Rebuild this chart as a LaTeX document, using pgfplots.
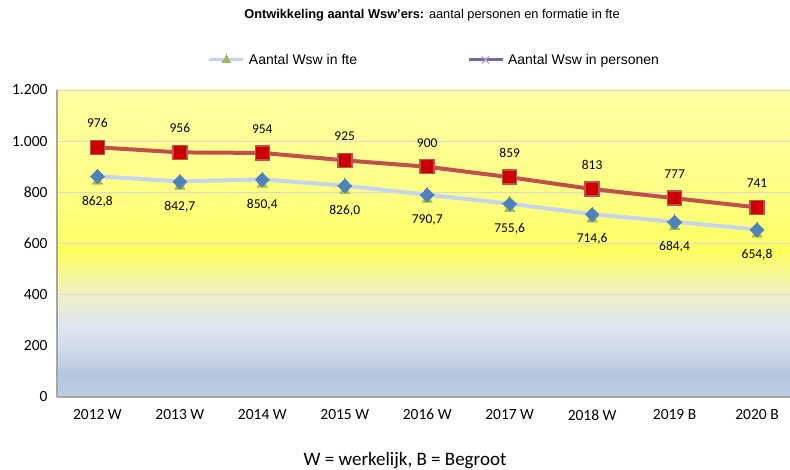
\documentclass[border=0pt]{standalone}
\usepackage{fontspec}
\setmainfont{Liberation Sans}
\newfontfamily\carlito{Carlito}
\usepackage{pgfplots}
\pgfplotsset{compat=1.18}

\definecolor{fteline}{RGB}{196,213,236}
\definecolor{ftemark}{RGB}{79,129,189}
\definecolor{ftetri}{RGB}{155,187,89}
\definecolor{persline}{RGB}{192,80,77}
\definecolor{persmark}{RGB}{204,0,0}
\definecolor{legpurple}{RGB}{128,100,162}
\definecolor{axisgray}{RGB}{166,166,166}
\definecolor{gridgray}{RGB}{217,217,217}

% achtergrond: blauw onder, geel boven
\definecolor{bgA}{RGB}{190,205,226}
\definecolor{bgB}{RGB}{180,199,224}
\definecolor{bgC}{RGB}{212,222,237}
\definecolor{bgD}{RGB}{222,230,238}
\definecolor{bgE}{RGB}{236,238,205}
\definecolor{bgF}{RGB}{255,255,95}
\definecolor{bgG}{RGB}{255,255,130}
\definecolor{bgH}{RGB}{255,255,165}
\pgfdeclareverticalshading{bg}{100bp}{%
  color(0bp)=(bgA); color(25bp)=(bgA); color(28.6bp)=(bgB);
  color(33.5bp)=(bgC); color(36.7bp)=(bgD); color(40.8bp)=(bgE);
  color(48.9bp)=(bgF); color(57.1bp)=(bgG); color(75bp)=(bgH);
  color(100bp)=(bgH)}

\begin{document}
\begin{tikzpicture}[x=1pt,y=1pt]
\path[use as bounding box] (0,0) rectangle (790,470);

\node[font=\fontsize{12.8}{15}\selectfont] at (432,455)
  {\textbf{Ontwikkeling aantal Wsw'ers:} aantal personen en formatie in fte};
\node[font=\carlito\fontsize{19}{21}\selectfont] at (405,9)
  {W = werkelijk, B = Begroot};

\begin{axis}[
    at={(57pt,73pt)}, anchor=south west,
    scale only axis,
    width=733pt, height=307pt,
    xmin=-0.49, xmax=8.4,
    ymin=0, ymax=1200,
    xtick={0,...,8},
    xticklabels={2012 W,2013 W,2014 W,2015 W,2016 W,2017 W,2018 W,2019 B,2020 B},
    ytick={0,200,...,1200},
    /pgf/number format/assume math mode=true,
    /pgf/number format/1000 sep={.},
    ticklabel style={font=\carlito\fontsize{15.5}{17}\selectfont},
    xticklabel style={yshift=-9pt},
    yticklabel style={xshift=-6pt},
    major tick length=0pt,
    axis lines=left,
    axis line style={draw=axisgray, line width=1.3pt, -},
    ymajorgrids,
    grid style={draw=gridgray, line width=0.9pt},
    axis background/.style={shade, shading=bg},
    clip=false,
    legend columns=2,
    legend style={
        at={(0.515,1)}, anchor=south, yshift=20pt,
        draw=none, fill=none,
        font=\fontsize{14}{16}\selectfont,
        /tikz/every even column/.append style={column sep=108pt},
        /tikz/every odd column/.append style={column sep=2pt},
    },
    legend image code/.code={
        \draw[mark repeat=2,mark phase=2,#1]
            plot coordinates {(0pt,0pt) (17pt,0pt) (34pt,0pt)};
    },
]

% legenda (zoals in het origineel)
\addlegendimage{draw=fteline, line width=3pt, mark=triangle*,
    mark options={fill=ftetri, draw=ftetri, line width=0pt, mark size=5pt}}
\addlegendentry{Aantal Wsw in fte}
\addlegendimage{draw=legpurple, line width=3pt, mark=x,
    mark options={draw=legpurple!60, line width=1.2pt, mark size=5pt}}
\addlegendentry{Aantal Wsw in personen}

% fte: groene driehoekjes achter de ruiten
\addplot[forget plot, draw=none, mark=triangle*, mark size=6pt,
    mark options={fill=ftetri, draw=ftetri, yshift=-5pt}] coordinates {
    (0,862.8) (1,842.7) (2,850.4) (3,826.0) (4,790.7)
    (5,755.6) (6,714.6) (7,684.4) (8,654.8)
};

% fte
\addplot[forget plot, draw=fteline, line width=4pt, mark=diamond*, mark size=7pt,
    mark options={fill=ftemark, draw=ftemark, line width=0pt, xscale=1.3},
    nodes near coords, point meta=explicit symbolic,
    every node near coord/.append style={anchor=center, yshift=-25pt,
        font=\carlito\fontsize{13.5}{15}\selectfont, text=black}]
    coordinates {
    (0,862.8) [862,8]
    (1,842.7) [842,7]
    (2,850.4) [850,4]
    (3,826.0) [826,0]
    (4,790.7) [790,7]
    (5,755.6) [755,6]
    (6,714.6) [714,6]
    (7,684.4) [684,4]
    (8,654.8) [654,8]
};

% personen
\addplot[forget plot, draw=persline, line width=4pt, mark=square*, mark size=7pt,
    mark options={fill=persmark, draw=persline, line width=1.5pt},
    nodes near coords, point meta=explicit symbolic,
    every node near coord/.append style={anchor=center, yshift=24pt,
        font=\carlito\fontsize{13.5}{15}\selectfont, text=black}]
    coordinates {
    (0,976) [976]
    (1,956) [956]
    (2,954) [954]
    (3,925) [925]
    (4,900) [900]
    (5,859) [859]
    (6,813) [813]
    (7,777) [777]
    (8,741) [741]
};

\end{axis}
\end{tikzpicture}
\end{document}
